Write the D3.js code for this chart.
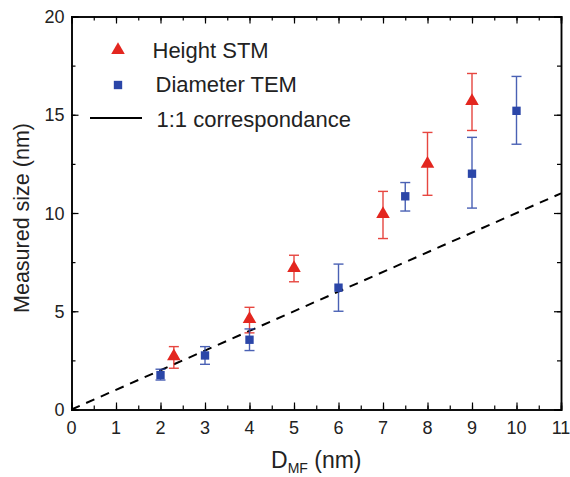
<!DOCTYPE html>
<html>
<head>
<meta charset="utf-8">
<script src="https://cdn.jsdelivr.net/npm/d3@7"></script>
<style>
  body { margin: 0; background: #fff; }
  svg { font-family: "Liberation Sans", Arial, sans-serif; }
</style>
</head>
<body>
<div id="chart"></div>
<script>
// Height STM (red triangles)
const stmX = [2.3, 4, 5, 7, 8, 9];
const stmY = [2.7, 4.6, 7.2, 9.95, 12.5, 15.7];
const stmLo = [2.1, 3.9, 6.5, 8.7, 10.9, 14.2];
const stmHi = [3.2, 5.2, 7.85, 11.1, 14.1, 17.1];

// Diameter TEM (blue squares)
const temX = [2, 3, 4, 6, 7.5, 9, 10];
const temY = [1.75, 2.75, 3.55, 6.2, 10.85, 12.0, 15.2];
const temLo = [1.5, 2.3, 3.0, 5.0, 10.1, 10.25, 13.5];
const temHi = [2.05, 3.2, 4.1, 7.4, 11.55, 13.85, 16.95];

const xTicks = [0, 1, 2, 3, 4, 5, 6, 7, 8, 9, 10, 11];
const yTicks = [0, 5, 10, 15, 20];
const legendLabels = ["Height STM", "Diameter TEM", "1:1 correspondance"];

const width = 570, height = 477;
const margin = { top: 16.5, right: 9, bottom: 67.5, left: 71.5 };
const red = "#e3261f", blue = "#2b46a8";

const x = d3.scaleLinear().domain([0, 11]).range([margin.left, width - margin.right]);
const y = d3.scaleLinear().domain([0, 20]).range([height - margin.bottom, margin.top]);

const svg = d3.select("#chart").append("svg")
    .attr("width", width)
    .attr("height", height);

const minorX = d3.range(0, 11.01, 0.5);
const minorY = d3.range(0, 20.01, 2.5);

// axes with inward ticks on all four sides
function tickAxis(axisFn, scale, ticks, size) {
    return axisFn(scale).tickValues(ticks).tickSize(size).tickFormat(() => "");
}
const sides = [
    [d3.axisTop, x, minorX, xTicks, `translate(0,${y(0)})`],
    [d3.axisBottom, x, minorX, xTicks, `translate(0,${y(20)})`],
    [d3.axisRight, y, minorY, yTicks, `translate(${x(0)},0)`],
    [d3.axisLeft, y, minorY, yTicks, `translate(${x(11)},0)`]
];
sides.forEach(([fn, sc, minor, major, tr]) => {
    svg.append("g").attr("transform", tr).call(tickAxis(fn, sc, minor, 4));
    svg.append("g").attr("transform", tr).call(tickAxis(fn, sc, major, 7));
});

svg.selectAll(".domain").attr("stroke", "#000").attr("stroke-width", 1.5);
svg.selectAll(".tick line").attr("stroke", "#000").attr("stroke-width", 1.2);

// tick labels
svg.append("g").selectAll("text")
    .data(xTicks)
    .join("text")
    .attr("x", d => x(d))
    .attr("y", y(0) + 24.5)
    .attr("text-anchor", "middle")
    .attr("font-size", 18)
    .attr("fill", "#222")
    .text(d => d);

svg.append("g").selectAll("text")
    .data(yTicks)
    .join("text")
    .attr("x", x(0) - 7)
    .attr("y", d => y(d) + 6.5)
    .attr("text-anchor", "end")
    .attr("font-size", 18)
    .attr("fill", "#222")
    .text(d => d);

// axis titles
const xt = svg.append("text")
    .attr("x", 271)
    .attr("y", 468)
    .attr("text-anchor", "start")
    .attr("font-size", 23)
    .attr("fill", "#222");
xt.append("tspan").text("D");
xt.append("tspan").attr("font-size", 14).attr("dy", 5).text("MF");
xt.append("tspan").attr("dy", -5).text(" (nm)");

svg.append("text")
    .attr("transform", "translate(28.5,218) rotate(-90)")
    .attr("text-anchor", "middle")
    .attr("font-size", 21.5)
    .attr("fill", "#222")
    .text("Measured size (nm)");

// 1:1 line
svg.append("line")
    .attr("x1", x(0)).attr("y1", y(0))
    .attr("x2", x(11)).attr("y2", y(11))
    .attr("stroke", "#000")
    .attr("stroke-width", 2)
    .attr("stroke-dasharray", "9,7");

// error bars
function errorBars(xs, lo, hi, color) {
    const g = svg.append("g").attr("stroke", color).attr("stroke-width", 1.4).attr("opacity", 0.85);
    xs.forEach((xv, i) => {
        g.append("line").attr("x1", x(xv)).attr("x2", x(xv)).attr("y1", y(lo[i])).attr("y2", y(hi[i]));
        g.append("line").attr("x1", x(xv) - 5).attr("x2", x(xv) + 5).attr("y1", y(lo[i])).attr("y2", y(lo[i]));
        g.append("line").attr("x1", x(xv) - 5).attr("x2", x(xv) + 5).attr("y1", y(hi[i])).attr("y2", y(hi[i]));
    });
}
errorBars(stmX, stmLo, stmHi, red);
errorBars(temX, temLo, temHi, blue);

const tri = d3.symbol().type(d3.symbolTriangle).size(80);
const sq = d3.symbol().type(d3.symbolSquare).size(70);

svg.append("g").selectAll("path")
    .data(stmX)
    .join("path")
    .attr("d", tri)
    .attr("transform", (d, i) => `translate(${x(d)},${y(stmY[i])})`)
    .attr("fill", red);

svg.append("g").selectAll("path")
    .data(temX)
    .join("path")
    .attr("d", sq)
    .attr("transform", (d, i) => `translate(${x(d)},${y(temY[i])})`)
    .attr("fill", blue);

// legend
const lg = svg.append("g");
lg.append("path").attr("d", tri).attr("transform", "translate(118,50)").attr("fill", red);
lg.append("path").attr("d", sq).attr("transform", "translate(118,85)").attr("fill", blue);
lg.append("line").attr("x1", 90).attr("x2", 142).attr("y1", 118).attr("y2", 118)
    .attr("stroke", "#000").attr("stroke-width", 2);
const ly = [57.5, 92, 126.5];
const lx = [152.5, 155.5, 156.5];
legendLabels.forEach((t, i) => {
    lg.append("text")
        .attr("x", lx[i]).attr("y", ly[i])
        .attr("font-size", 22)
        .attr("fill", "#222")
        .text(t);
});
</script>
</body>
</html>
